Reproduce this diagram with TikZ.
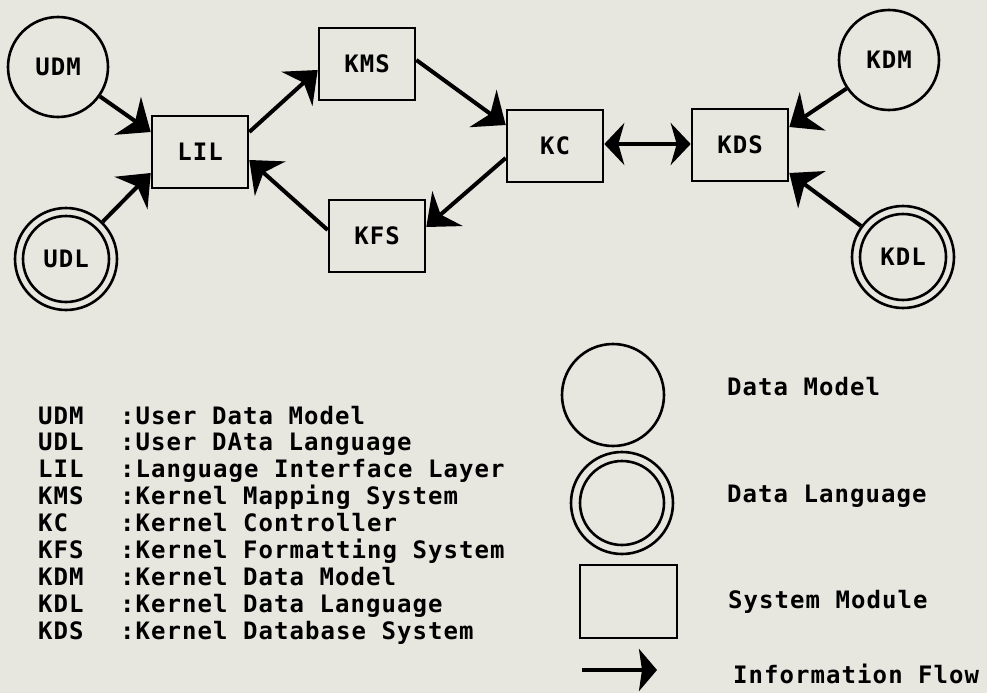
\documentclass[tikz,border=0pt]{standalone}
\usepackage{fontspec}
\newfontfamily\monof[LetterSpace=4.4]{DejaVu Sans Mono}
\usetikzlibrary{arrows.meta}
\definecolor{paper}{RGB}{231,231,224}
\begin{document}
\begin{tikzpicture}[x=1pt,y=-1pt,
  >={Stealth[length=28pt,width=46pt,inset=9pt]},
  every node/.style={font=\monof\bfseries\fontsize{24}{28}\selectfont, text=black},
  module/.style={draw, line width=2.6pt, minimum width=96pt, minimum height=72pt, inner sep=0pt},
  dmodel/.style={draw, circle, line width=2.6pt, minimum size=100pt, inner sep=0pt},
  dlang/.style={draw, circle, line width=2.6pt, minimum size=102pt, inner sep=0pt},
  innerring/.style={line width=2.6pt},
  flow/.style={line width=4pt, ->},
  biflow/.style={line width=4pt, <->},
  lbl/.style={anchor=base west, inner sep=0pt}]
\fill[paper] (0,0) rectangle (987,693);
\useasboundingbox (0,0) rectangle (987,693);

% --- diagram ---
\node[dmodel] (UDM) at (58,67) {UDM};
\node[dlang] (UDL) at (66,259) {UDL};
\draw[innerring] (UDL.center) circle[radius=43pt];
\node[module] (LIL) at (200,152) {LIL};
\node[module] (KMS) at (367,64) {KMS};
\node[module] (KFS) at (377,236) {KFS};
\node[module] (KC) at (555,146) {KC};
\node[module] (KDS) at (740,145) {KDS};
\node[dmodel] (KDM) at (889,60) {KDM};
\node[dlang] (KDL) at (903,257) {KDL};
\draw[innerring] (KDL.center) circle[radius=43pt];

\draw[flow] (UDM) -- ([yshift=20pt]LIL.west);
\draw[flow] (UDL) -- ([yshift=-21pt]LIL.west);
\draw[flow] ([yshift=20pt]LIL.east) -- ([yshift=-6pt]KMS.west);
\draw[flow] ([yshift=4pt]KMS.east) -- ([yshift=21pt]KC.west);
\draw[flow] ([yshift=-12pt]KC.west) -- ([yshift=9pt]KFS.east);
\draw[flow] ([yshift=6pt]KFS.west) -- ([yshift=-8pt]LIL.east);
\draw[biflow, >={Stealth[length=20pt,width=42pt,inset=6pt]}] ([yshift=2pt]KC.east) -- ([yshift=1pt]KDS.west);
\draw[flow] (KDM) -- ([yshift=18pt]KDS.east);
\draw[flow] (KDL) -- ([yshift=-28pt]KDS.east);

% --- abbreviation list ---
\foreach \ab/\txt [count=\i from 0] in {UDM/:User Data Model, UDL/:User DAta Language, LIL/:Language Interface Layer, KMS/:Kernel Mapping System, KC/:Kernel Controller, KFS/:Kernel Formatting System, KDM/:Kernel Data Model, KDL/:Kernel Data Language, KDS/:Kernel Database System}{
  \node[lbl] (ab\i) at (38,424+26.9*\i) {\ab};
  \node[lbl] (tx\i) at (120,424+26.9*\i) {\txt};
}

% --- legend ---
\node[dmodel, minimum size=102pt] (lgDM) at (613,395) {};
\node[dlang] (lgDL) at (622,503) {};
\draw[innerring] (lgDL.center) circle[radius=42pt];
\node[module, minimum width=97pt, minimum height=73pt] (lgSM) at (628.5,601.5) {};
\coordinate (la1) at (582,670);
\coordinate (la2) at (657,670);
\draw[line width=4pt, -{Stealth[length=18pt,width=42pt,inset=3pt]}] (la1) -- (la2);

\node[lbl] (tDM) at (727,395) {Data Model};
\node[lbl] (tDL) at (727,502) {Data Language};
\node[lbl] (tSM) at (728,608) {System Module};
\node[lbl] (tIF) at (733,683) {Information Flow};
\end{tikzpicture}
\end{document}
